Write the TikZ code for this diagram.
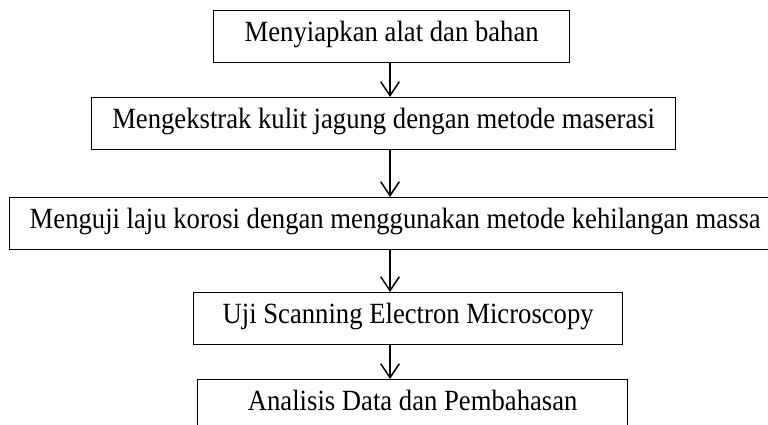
\documentclass[tikz,border=0pt]{standalone}
\usepackage{fontspec}
\setmainfont{Liberation Serif}
\usetikzlibrary{arrows.meta}
\newcommand{\tallt}[1]{\scalebox{1}[1.1]{#1}}
\begin{document}
\begin{tikzpicture}[x=0.75pt,y=-0.75pt,
  stepbox/.style={draw=black, line width=1pt, anchor=north west,
    inner xsep=0pt, inner ysep=0pt, minimum height=39pt,
    text height=23pt, text depth=16pt,
    font=\fontsize{20}{24}\selectfont},
  flowarrow/.style={line width=1.1pt, -{Straight Barb[length=10.5pt,width=14pt]}}]
\clip (0,0) rectangle (768,425);
\node[stepbox, minimum width=267pt] (b1) at (213,10) {\tallt{Menyiapkan alat dan bahan}};
\node[stepbox, minimum width=438pt] (b2) at (91,97) {\tallt{Mengekstrak kulit jagung dengan metode maserasi}};
\node[stepbox, minimum width=578.25pt] (b3) at (9,197) {\tallt{Menguji laju korosi dengan menggunakan metode kehilangan massa}};
\node[stepbox, minimum width=321.75pt] (b4) at (193,292) {\tallt{Uji Scanning Electron Microscopy}};
\node[stepbox, minimum width=322.5pt] (b5) at (197,379) {\tallt{Analisis Data dan Pembahasan}};
\coordinate (ax) at (390,0);
\draw[flowarrow] (b1.south -| ax) -- (b2.north -| ax);
\draw[flowarrow] (b2.south -| ax) -- (b3.north -| ax);
\draw[flowarrow] (b3.south -| ax) -- (b4.north -| ax);
\draw[flowarrow] (b4.south -| ax) -- (b5.north -| ax);
\end{tikzpicture}
\end{document}
